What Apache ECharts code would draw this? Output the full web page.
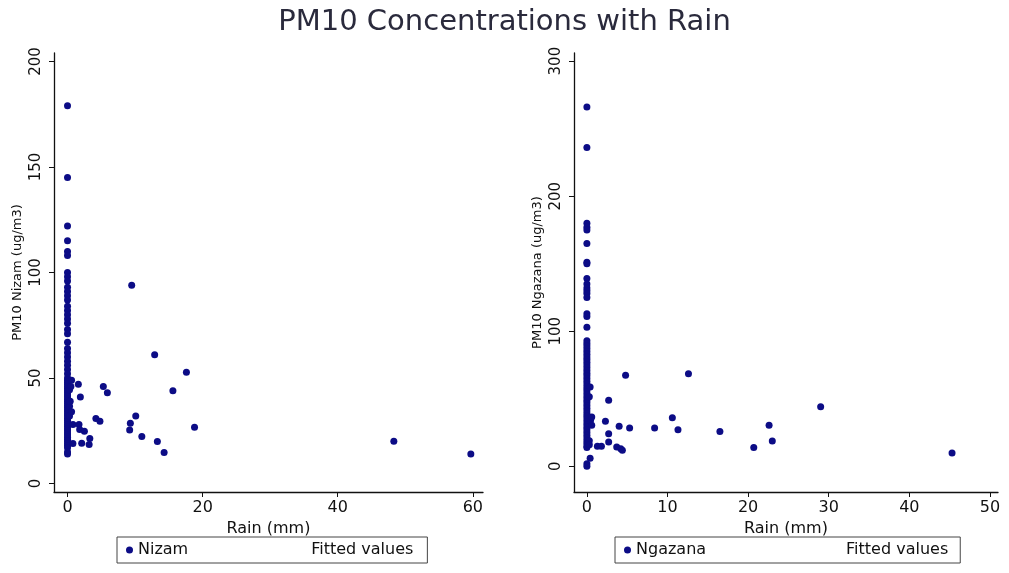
<!DOCTYPE html>
<html>
<head>
<meta charset="utf-8">
<script src="https://cdn.jsdelivr.net/npm/echarts@6/dist/echarts.min.js"></script>
<style>
  html, body { margin: 0; padding: 0; background: #ffffff; }
  #chart { width: 1009px; height: 573px; }
</style>
</head>
<body>
<div id="chart"></div>
<script>
// ---------- Data ----------
const chartTitle = 'PM10 Concentrations with Rain';

// Nizam station: PM10 readings on days with 0 mm rain
const nizamDryPM = [
  179,145,122,115,110,108,100,98,96,93,91,89,87,84,82,80,78,76,73,71,
  67,64,62,60,58,56,54,52,50,49,48,47,46,45,44,43,42,41,40,39,
  38,37,36,35,34,33,32,31,30,29,28,27,26,25,24,23,22,21,20,19,
  18,17,15,14
];
// Nizam station: days with rain (mm) and PM10 (ug/m3)
const nizamRain = [
  0.3,0.6,0.3,0.3,0.8,1.7,1.8,2.5,3.3,0.8,2.1,3.2,1.6,1.9,0.5,0.4,0.6,
  4.2,4.8,5.3,5.9,9.5,12.9,17.6,15.6,10.1,9.3,9.2,11.0,13.3,14.3,18.8,48.3,59.7
];
const nizamPM = [
  44.5,49,36.6,32,28,28,25.6,24.8,21.3,19,19.1,18.5,47,41,46,39,34,
  30.8,29.5,46,43,94,61,52.7,44,32,28.6,25.4,22.3,19.9,14.7,26.7,20,14
];

// Ngazana station: PM10 readings on days with 0 mm rain
const ngazanaDryPM = [
  266,236,180,177,175,165,151,150,139,135,132,130,128,125,113,111,103,
  93,91,89,87,85,83,81,79,77,75,73,71,69,67,65,63,61,59,57,55,
  53,51,49,47,45,43,41,39,37,35,33,31,29,27,25,23,21,19,17,15,14,2,0
];
// Ngazana station: days with rain (mm) and PM10 (ug/m3)
const ngazanaRain = [
  0.4,0.45,0.6,0.6,0.4,0.3,0.3,0.3,
  4.8,12.6,2.7,2.3,4.0,5.3,8.4,10.6,11.3,16.5,20.7,2.7,2.7,1.3,1.8,3.7,4.2,4.4,
  22.6,23.0,29.0,45.3
];
const ngazanaPM = [
  6,34,30.4,36.5,58.8,51.6,19,16,
  67.4,68.6,48.9,33.3,29.6,28.4,28.4,36,27,25.7,13.9,24.2,18,14.8,14.8,14.3,13,11.9,
  30.4,18.8,44.2,9.9
];

// Tick labels
const nizamXTicks = [0, 20, 40, 60];
const nizamYTicks = [0, 50, 100, 150, 200];
const ngazanaXTicks = [0, 10, 20, 30, 40, 50];
const ngazanaYTicks = [0, 100, 200, 300];

const xName = 'Rain (mm)';
const nizamYName = 'PM10 Nizam (ug/m3)';
const ngazanaYName = 'PM10 Ngazana (ug/m3)';
const fittedName = 'Fitted values';

// ---------- Chart ----------
const dryRain = 0;
const zip = (xs, ys) => xs.map((x, i) => [x, ys[i]]);
const withDry = (dry, xs, ys) => dry.map(v => [dryRain, v]).concat(zip(xs, ys));
const FONT = 'DejaVu Sans';
const DOT = '#0c0c86';

function xAxisCfg(grid, min, max, ticks) {
  return {
    type: 'value', gridIndex: grid, min: min, max: max,
    name: xName, nameLocation: 'middle', nameGap: 24,
    nameTextStyle: { fontFamily: FONT, fontSize: 16, color: '#111' },
    splitLine: { show: false },
    axisLine: { show: true, onZero: false, lineStyle: { color: '#111', width: 1.3 } },
    axisTick: { show: true, length: 5, customValues: ticks, lineStyle: { color: '#111' } },
    axisLabel: { customValues: ticks, margin: 8, fontFamily: FONT, fontSize: 16, color: '#111' }
  };
}
function yAxisCfg(grid, min, max, ticks, name) {
  return {
    type: 'value', gridIndex: grid, min: min, max: max,
    name: name, nameLocation: 'middle', nameGap: 30, nameRotate: 90,
    nameTextStyle: { fontFamily: FONT, fontSize: 13, color: '#111' },
    splitLine: { show: false },
    axisLine: { show: true, onZero: false, lineStyle: { color: '#111', width: 1.3 } },
    axisTick: { show: true, length: 5, customValues: ticks, lineStyle: { color: '#111' } },
    axisLabel: { customValues: ticks, rotate: 90, margin: 10, fontFamily: FONT, fontSize: 15, color: '#111' }
  };
}
function legendCfg(left, gap, pad, names) {
  return {
    left: left, top: 537, orient: 'horizontal',
    itemWidth: 7, itemHeight: 7, itemGap: gap,
    padding: pad,
    borderColor: '#444', borderWidth: 1, backgroundColor: '#fff',
    textStyle: { fontFamily: FONT, fontSize: 16, color: '#111' },
    data: [{ name: names[0], icon: 'circle' }, { name: names[1], icon: 'none' }],
    selectedMode: false
  };
}

const chart = echarts.init(document.getElementById('chart'), null, { renderer: 'canvas' });
chart.setOption({
  backgroundColor: '#ffffff',
  animation: false,
  title: {
    text: chartTitle, left: 'center', top: 3,
    textStyle: { fontFamily: FONT, fontSize: 29, fontWeight: 'normal', color: '#2a2a3c' }
  },
  grid: [
    { left: 54, right: 526, top: 53, bottom: 81, containLabel: false },
    { left: 574, right: 11, top: 53, bottom: 81, containLabel: false }
  ],
  xAxis: [
    xAxisCfg(0, -2, 61.5, nizamXTicks),
    xAxisCfg(1, -1.6, 51, ngazanaXTicks)
  ],
  yAxis: [
    yAxisCfg(0, -4, 204, nizamYTicks, nizamYName),
    yAxisCfg(1, -19, 306, ngazanaYTicks, ngazanaYName)
  ],
  legend: [
    legendCfg(117, 111, [5, 14, 5, 9], ['Nizam', fittedName]),
    legendCfg(615, 128, [5, 12, 5, 9], ['Ngazana', fittedName])
  ],
  series: [
    { name: 'Nizam', type: 'scatter', xAxisIndex: 0, yAxisIndex: 0,
      symbol: 'circle', symbolSize: 7, itemStyle: { color: DOT, opacity: 1 },
      data: withDry(nizamDryPM, nizamRain, nizamPM) },
    { name: fittedName, type: 'line', xAxisIndex: 0, yAxisIndex: 0,
      showSymbol: false, lineStyle: { color: '#ffffff', width: 0 }, itemStyle: { color: '#ffffff' }, data: [] },
    { name: 'Ngazana', type: 'scatter', xAxisIndex: 1, yAxisIndex: 1,
      symbol: 'circle', symbolSize: 7, itemStyle: { color: DOT, opacity: 1 },
      data: withDry(ngazanaDryPM, ngazanaRain, ngazanaPM) },
    { name: fittedName, type: 'line', xAxisIndex: 1, yAxisIndex: 1,
      showSymbol: false, lineStyle: { color: '#ffffff', width: 0 }, itemStyle: { color: '#ffffff' }, data: [] }
  ]
});
</script>
</body>
</html>
